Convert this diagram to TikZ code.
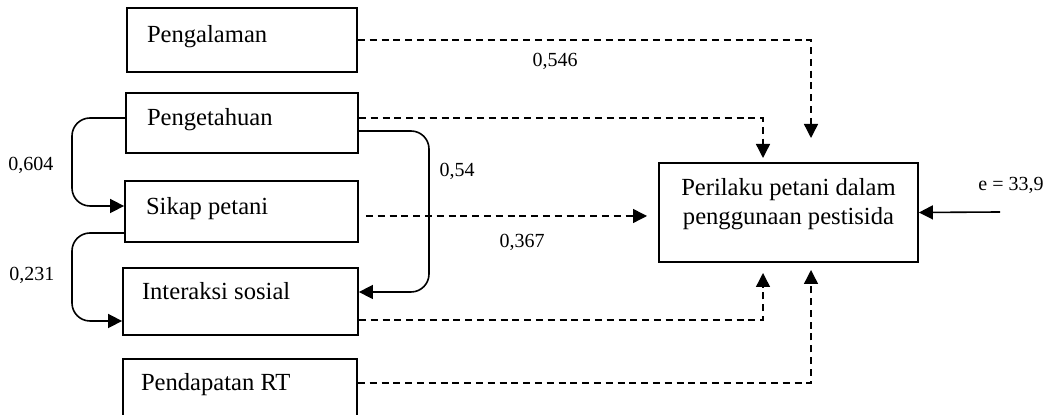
\documentclass[tikz,border=0pt]{standalone}
\usepackage{fontspec}
\setmainfont{Liberation Serif}
\usetikzlibrary{arrows.meta,calc}
\begin{document}
\begin{tikzpicture}[x=0.5pt,y=-0.5pt,
  box/.style={draw, line width=0.9pt, rectangle, inner ysep=0pt, text height=8.5pt, align=flush left, font=\fontsize{12.3}{14.5}\selectfont},
  dline/.style={line width=0.7pt, dash pattern=on 3.5pt off 2.4pt, -{Triangle[length=7pt,width=7pt]}},
  sline/.style={line width=0.8pt, rounded corners=9pt, -{Triangle[length=7pt,width=7pt]}},
  lbl/.style={font=\fontsize{10}{12}\selectfont, inner sep=0pt}]
\useasboundingbox (0,0) rectangle (1048,415);

% boxes
\node[box, text width=95pt, inner xsep=10pt, minimum height=32pt, text depth=6pt] (pgl) at (242,40) {Pengalaman};
\node[box, text width=95pt, inner xsep=10.5pt, minimum height=30pt, text depth=5.5pt] (pgt) at (242,123) {Pengetahuan};
\node[box, text width=95.5pt, inner xsep=10.5pt, minimum height=30.5pt, text depth=5pt] (sik) at (241.5,211.5) {Sikap petani};
\node[box, text width=98.5pt, inner xsep=9.5pt, minimum height=33.5pt, text depth=10pt] (int) at (240.5,301.5) {Interaksi sosial};
\node[box, text width=99pt, inner xsep=9pt, minimum height=30pt, text depth=6.5pt] (pen) at (240,389) {Pendapatan RT};
\node[box, align=center, inner sep=0pt, minimum width=129.5pt, minimum height=49.5pt, text height=17pt, text depth=4.5pt] (per) at (788.5,212.5) {Perilaku petani dalam\\penggunaan pestisida};

% free arrow ends
\coordinate (a1) at (811,138);
\coordinate (a2) at (763,158);
\coordinate (a3) at (647,216);
\coordinate (a4) at (763,273);
\coordinate (a5) at (811,270);
\coordinate (e0) at (1000,212);

% dashed connectors
\draw[dline] (pgl.east) -| (a1);
\draw[dline] ($(pgt.east)+(0,-5)$) -| (a2);
\draw[dline] ($(sik.east)+(7,4.5)$) -- (a3);
\draw[dline] ($(int.east)+(0,18.5)$) -| (a4);
\draw[dline] ($(pen.east)+(0,-6)$) -| (a5);

% solid connectors
\draw[sline] ($(pgt.west)+(0,-5)$) -| (72,206) -- ($(sik.west)+(0,-5.5)$);
\draw[sline] ($(sik.west)+(0,21.5)$) -| (72,321) -- ($(int.west)+(0,19.5)$);
\draw[sline] ($(pgt.east)+(0,8)$) -| (429,292) -- ($(int.east)+(0,-9.5)$);
\draw[line width=0.8pt, -{Triangle[length=7pt,width=7pt]}] (e0) -- (per.east);

% labels
\node[lbl] (l1) at (555,61) {0,546};
\node[lbl] (l2) at (31,165) {0,604};
\node[lbl] (l3) at (457,171) {0,54};
\node[lbl] (l4) at (522,242) {0,367};
\node[lbl] (l5) at (32,275) {0,231};
\node[lbl] (l6) at (1011,185) {e = 33,9};
\end{tikzpicture}
\end{document}
